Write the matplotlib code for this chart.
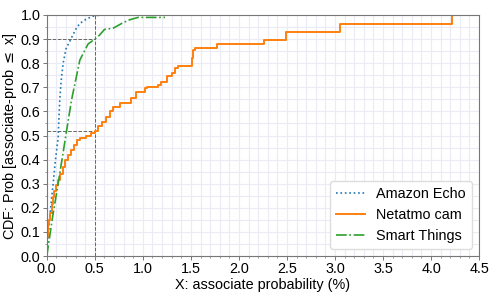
import matplotlib
matplotlib.use("Agg")
import matplotlib.pyplot as plt
from matplotlib.ticker import MultipleLocator

plt.rcParams["font.family"] = ["Liberation Sans", "DejaVu Sans"]

# (x in %, y = CDF)
echo_x = [0.0, 0.01, 0.03, 0.05, 0.066, 0.09, 0.118, 0.125, 0.135, 0.15, 0.17,
          0.2, 0.25, 0.3, 0.344, 0.4, 0.45, 0.5, 0.57]
echo_y = [0.0, 0.06, 0.16, 0.24, 0.30, 0.40, 0.49, 0.56, 0.65, 0.73, 0.80,
          0.86, 0.90, 0.94, 0.965, 0.98, 0.99, 0.997, 1.0]

netatmo_x = [0.0, 0.002, 0.005, 0.01, 0.016, 0.024, 0.035, 0.05, 0.066, 0.08,
             0.1, 0.118, 0.14, 0.165, 0.19, 0.22, 0.257, 0.285, 0.31, 0.35,
             0.41, 0.46, 0.5, 0.53, 0.57, 0.62, 0.66, 0.69, 0.76, 0.88, 0.93,
             1.02, 1.04, 1.16, 1.19, 1.25, 1.30, 1.33, 1.37, 1.50, 1.51, 1.52,
             1.54, 1.77, 2.26, 2.49, 3.05, 4.22]
netatmo_y = [0.0, 0.04, 0.08, 0.11, 0.13, 0.15, 0.18, 0.215, 0.246, 0.27,
             0.295, 0.315, 0.34, 0.37, 0.40, 0.42, 0.44, 0.46, 0.48, 0.49,
             0.50, 0.51, 0.52, 0.54, 0.557, 0.578, 0.60, 0.62, 0.634, 0.654,
             0.68, 0.696, 0.70, 0.71, 0.72, 0.745, 0.76, 0.78, 0.79, 0.79, 0.82,
             0.855, 0.865, 0.88, 0.896, 0.928, 0.961, 1.0]

things_x = [0.0, 0.014, 0.066, 0.118, 0.19, 0.257, 0.344, 0.43, 0.5, 0.55,
            0.6, 0.69, 0.78, 0.86, 0.95, 1.23]
things_y = [0.0, 0.039, 0.177, 0.30, 0.48, 0.647, 0.813, 0.88, 0.90, 0.917,
            0.94, 0.945, 0.965, 0.98, 0.99, 0.99]

ref_x = 0.5
ref_y = [0.52, 0.9, 1.0]

fs = 10.4

fig = plt.figure(figsize=(4.98, 2.97), dpi=100)
ax = fig.add_axes([0.094, 0.138, 0.868, 0.8115])

ax.plot(echo_x, echo_y, ls=":", color="#1f77b4", lw=1.2, label="Amazon Echo")
ax.plot(netatmo_x, netatmo_y, ls="-", color="#ff7f0e", lw=1.4,
        drawstyle="steps-post", label="Netatmo cam")
ax.plot(things_x, things_y, ls="-.", color="#2ca02c", lw=1.2,
        label="Smart Things")

ax.vlines(ref_x, 0, 1.0, colors="#666666", linestyles="--", lw=0.7, zorder=1)
ax.hlines(ref_y, 0, ref_x, colors="#666666", linestyles="--", lw=0.7, zorder=1)

ax.set_xlim(0, 4.5)
ax.set_ylim(0, 1.0)
ax.xaxis.set_major_locator(MultipleLocator(0.5))
ax.xaxis.set_minor_locator(MultipleLocator(0.1))
ax.yaxis.set_major_locator(MultipleLocator(0.1))
ax.yaxis.set_minor_locator(MultipleLocator(0.05))
ax.grid(True, which="both", color="#ebebf5", lw=0.8)
ax.set_axisbelow(True)
for s in ax.spines.values():
    s.set_color("#777777")
ax.tick_params(which="major", length=3, width=0.7, color="#777777",
               labelsize=fs, pad=1.5)
ax.tick_params(which="minor", length=1.5, width=0.5, color="#777777")

ax.set_xlabel("X: associate probability (%)", fontsize=fs, labelpad=1)
ax.set_ylabel(r"CDF: Prob [associate-prob $\leq$ x]", fontsize=fs, labelpad=1)

ax.legend(loc="lower right", fontsize=fs, handlelength=2.0, framealpha=1,
          edgecolor="#dddddd", borderpad=0.4)

fig.savefig("out.png", dpi=100)
